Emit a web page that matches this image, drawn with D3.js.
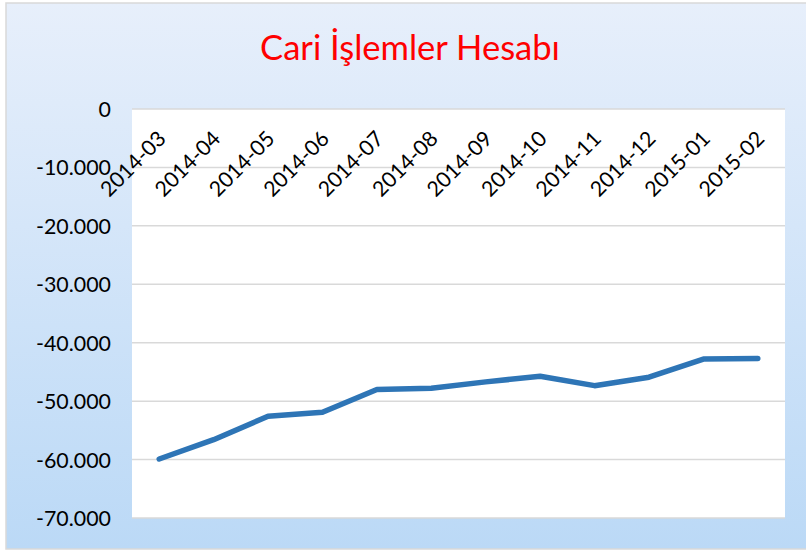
<!DOCTYPE html>
<html><head><meta charset="utf-8">
<script src="https://cdn.jsdelivr.net/npm/d3@7"></script>
<style>html,body{margin:0;padding:0;background:#fff;}svg{display:block;}</style>
</head><body>
<svg id="c" width="806" height="550"></svg>
<script>
const categories = ["2014-03","2014-04","2014-05","2014-06","2014-07","2014-08","2014-09","2014-10","2014-11","2014-12","2015-01","2015-02"];
const values = [-59900,-56600,-52600,-51900,-48000,-47800,-46700,-45750,-47350,-45900,-42800,-42700];
const yTicks = [0,-10000,-20000,-30000,-40000,-50000,-60000,-70000];
const title = "Cari İşlemler Hesabı";

(function(){
const FONT = "Lato, 'Open Sans', sans-serif";
const svg = d3.select("#c");
const defs = svg.append("defs");
const g = defs.append("linearGradient").attr("id","bg").attr("x1",0).attr("y1",0).attr("x2",0).attr("y2",1);
g.append("stop").attr("offset","0%").attr("stop-color","#e7effb");
g.append("stop").attr("offset","100%").attr("stop-color","#bbd9f6");

svg.append("rect").attr("x",6).attr("y",3).attr("width",806).attr("height",546)
  .attr("fill","url(#bg)").attr("stroke","#d9d9d9").attr("stroke-width",1.5);

const pL=132, pR=785, pT=109, pB=518;
const x = d3.scaleBand().domain(categories).range([pL,pR]);
const y = d3.scaleLinear().domain([-70000,0]).range([pB,pT]);

svg.append("rect").attr("x",pL).attr("y",pT).attr("width",pR-pL).attr("height",pB-pT).attr("fill","#fff");

const loc = d3.formatLocale({decimal:",",thousands:".",grouping:[3],currency:["",""],minus:"-"});
const fmt = v => v===0 ? "0" : loc.format(",")(v);

svg.append("g").selectAll("line").data(yTicks).join("line")
  .attr("x1",pL).attr("x2",pR).attr("y1",d=>y(d)).attr("y2",d=>y(d))
  .attr("stroke","#d9d9d9").attr("stroke-width",1.5);

// fit a font size so a sample text reaches a target width
function fit(sample, target, base){
  const t = svg.append("text").attr("font-family",FONT).attr("font-size",base).text(sample);
  const w = t.node().getComputedTextLength();
  t.remove();
  return w>0 ? base*target/w : base;
}
const ySize = fit("-10.000", 75, 20);
const xSize = fit("2014-03", 82, 20);
const tSize = fit(title, 300, 32);

svg.append("g").selectAll("text").data(yTicks).join("text")
  .attr("x",111).attr("y",d=>y(d)+8).attr("text-anchor","end")
  .attr("font-family",FONT).attr("font-size",ySize).attr("fill","#000")
  .text(fmt);

svg.append("g").selectAll("text").data(categories).join("text")
  .attr("transform",d=>`translate(${x(d)+x.bandwidth()/2+8},${pT+31}) rotate(-45)`)
  .attr("text-anchor","end")
  .attr("font-family",FONT).attr("font-size",xSize).attr("fill","#000")
  .text(d=>d);

const line = d3.line().x((d,i)=>x(categories[i])+x.bandwidth()/2).y(d=>y(d));
svg.append("path").datum(values).attr("d",line).attr("fill","none")
  .attr("stroke","#2e75b6").attr("stroke-width",5.5).attr("stroke-linecap","round").attr("stroke-linejoin","round");

svg.append("text").attr("x",410).attr("y",60).attr("text-anchor","middle")
  .attr("font-family",FONT).attr("font-size",tSize).attr("fill","#ff0000")
  .text(title);
})();
</script>
</body></html>
